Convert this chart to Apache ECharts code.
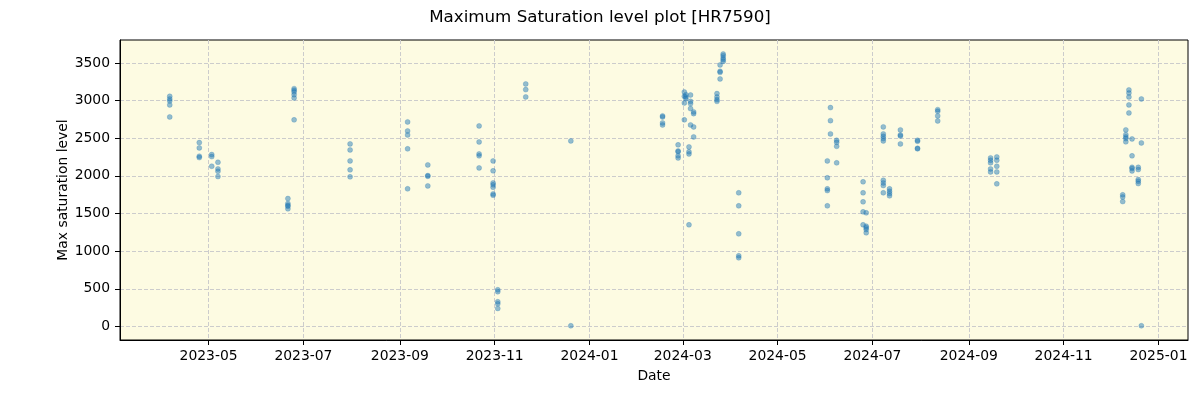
<!DOCTYPE html>
<html>
<head>
<meta charset="utf-8">
<script src="https://cdn.jsdelivr.net/npm/echarts@6/dist/echarts.min.js"></script>
<style>
html,body{margin:0;padding:0;background:#fff;}
#chart{width:1200px;height:400px;}
</style>
</head>
<body>
<div id="chart"></div>
<script>
// Observation dates and the max saturation levels measured on each date
const obsDates = [
  '2023-04-06','2023-04-25','2023-05-03','2023-05-07','2023-06-21','2023-06-25',
  '2023-07-31','2023-09-06','2023-09-19','2023-10-22','2023-10-31','2023-11-03',
  '2023-11-21','2023-12-20','2024-02-17','2024-02-27','2024-03-02','2024-03-03',
  '2024-03-05','2024-03-06','2024-03-08','2024-03-23','2024-03-25','2024-03-27',
  '2024-04-06','2024-06-02','2024-06-04','2024-06-08','2024-06-25','2024-06-27',
  '2024-07-08','2024-07-12','2024-07-19','2024-07-30','2024-08-12','2024-09-15',
  '2024-09-19','2024-12-09','2024-12-11','2024-12-13','2024-12-15','2024-12-19',
  '2024-12-21'
];
const obsValues = [
  [3057, 3022, 2996, 2943, 2783],
  [2442, 2372, 2261, 2243],
  [2283, 2256, 2128],
  [2181, 2093, 2062, 1991],
  [1699, 1633, 1610, 1597, 1562],
  [3159, 3137, 3115, 3079, 3036, 2744],
  [2425, 2345, 2199, 2080, 1987],
  [2717, 2597, 2544, 2359, 1828],
  [2146, 2004, 1995, 1867],
  [2664, 2451, 2292, 2266, 2106],
  [2199, 2067, 1907, 1881, 1849, 1761, 1743],
  [487, 461, 328, 301, 239],
  [3221, 3146, 3049],
  [2465, 9],
  [2797, 2783, 2704, 2677],
  [2412, 2332, 2319, 2266, 2239],
  [3115, 3057, 2969, 2744],
  [3079, 3049, 3026],
  [2385, 2319, 2292, 1350],
  [3075, 2990, 2960, 2894, 2677],
  [2850, 2827, 2651, 2518],
  [3093, 3049, 3013, 2990],
  [3474, 3389, 3375, 3288],
  [3619, 3597, 3566, 3544, 3521],
  [1775, 1602, 1230, 938, 912],
  [2199, 1974, 1828, 1805, 1602],
  [2907, 2734, 2558],
  [2473, 2446, 2393, 2173],
  [1921, 1775, 1655, 1522, 1350],
  [1509, 1331, 1310, 1287, 1244],
  [2651, 2558, 2526, 2495, 2465, 1942, 1907, 1872, 1775],
  [1828, 1796, 1765, 1735],
  [2611, 2544, 2531, 2425],
  [2473, 2460, 2367, 2359],
  [2880, 2858, 2797, 2730],
  [2239, 2208, 2173, 2093, 2053],
  [2252, 2208, 2128, 2053, 1894],
  [1748, 1721, 1659],
  [2611, 2548, 2518, 2495, 2452],
  [3142, 3102, 3049, 2943, 2836],
  [2491, 2266, 2114, 2097, 2066],
  [2114, 2084, 1951, 1929, 1898],
  [3022, 2438, 9]
];
const xTickLabels = ['2023-05','2023-07','2023-09','2023-11','2024-01','2024-03',
                     '2024-05','2024-07','2024-09','2024-11','2025-01'];
const yTickValues = [0, 500, 1000, 1500, 2000, 2500, 3000, 3500];
const xRange = ['2023-03-05', '2025-01-20'];
const yRange = [-180, 3805];

function toUTC(s) {
  const p = s.split('-').map(Number);
  return Date.UTC(p[0], p[1] - 1, p[2] || 1);
}
function fmtMonth(v) {
  const d = new Date(v);
  return d.getUTCFullYear() + '-' + String(d.getUTCMonth() + 1).padStart(2, '0');
}

const points = [];
obsDates.forEach((d, i) => {
  const t = toUTC(d);
  obsValues[i].forEach(v => points.push([t, v]));
});
const xTicks = xTickLabels.map(toUTC);

const font = 'DejaVu Sans';
const tickFs = 13.9;
const chart = echarts.init(document.getElementById('chart'), null, {renderer: 'canvas'});
chart.setOption({
  animation: false,
  backgroundColor: '#ffffff',
  title: {
    text: 'Maximum Saturation level plot [HR7590]',
    left: 'center',
    top: 4,
    textStyle: {fontFamily: font, fontSize: 16.7, fontWeight: 'normal', color: '#000'}
  },
  grid: {
    left: 120, right: 12, top: 40, bottom: 60,
    show: true, backgroundColor: '#fdfbe2', borderColor: '#000', borderWidth: 1
  },
  xAxis: {
    type: 'value',
    min: toUTC(xRange[0]),
    max: toUTC(xRange[1]),
    name: 'Date',
    nameLocation: 'middle',
    nameGap: 29,
    nameMoveOverlap: false,
    nameTextStyle: {fontFamily: font, fontSize: tickFs, color: '#000'},
    axisLine: {show: true, onZero: false, lineStyle: {color: '#000', width: 1}},
    axisTick: {show: true, inside: false, length: 5, customValues: xTicks, lineStyle: {color: '#000'}},
    axisLabel: {
      customValues: xTicks,
      formatter: fmtMonth,
      fontFamily: font, fontSize: tickFs, color: '#000', margin: 9
    },
    splitLine: {show: true, lineStyle: {color: '#cccccc', type: [4, 2], width: 1}}
  },
  yAxis: {
    type: 'value',
    min: yRange[0],
    max: yRange[1],
    name: 'Max saturation level',
    nameLocation: 'middle',
    nameGap: 50,
    nameMoveOverlap: false,
    nameTextStyle: {fontFamily: font, fontSize: tickFs, color: '#000'},
    axisLine: {show: true, onZero: false, lineStyle: {color: '#000', width: 1}},
    axisTick: {show: true, inside: false, length: 5, customValues: yTickValues, lineStyle: {color: '#000'}},
    axisLabel: {
      customValues: yTickValues,
      formatter: v => String(v),
      fontFamily: font, fontSize: tickFs, color: '#000', margin: 10
    },
    splitLine: {show: true, lineStyle: {color: '#cccccc', type: [4, 2], width: 1}}
  },
  series: [{
    type: 'scatter',
    data: points,
    symbol: 'circle',
    symbolSize: 5,
    itemStyle: {color: 'rgba(31,119,180,0.6)', borderColor: 'rgba(31,119,180,0.6)', borderWidth: 0.5}
  }]
});
</script>
</body>
</html>
